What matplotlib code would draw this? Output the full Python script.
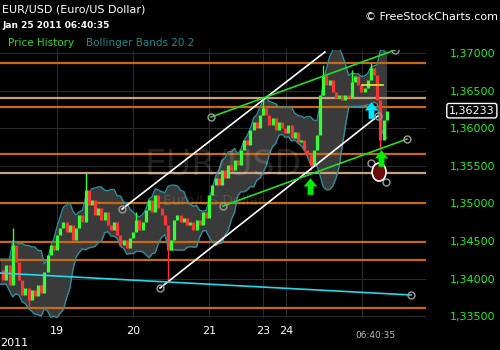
import numpy as np
import pandas as pd
import matplotlib
matplotlib.use("Agg")
import matplotlib.pyplot as plt
from matplotlib.path import Path
from matplotlib.patches import Ellipse
import matplotlib.transforms as mtransforms

# hourly closes, EUR/USD, bar index 0..122
closes = [1.34114, 1.33981, 1.34181, 1.33915, 1.34447, 1.34220, 1.33981, 1.33782, 1.33875, 1.33715,
          1.33848, 1.33768, 1.33915, 1.33808, 1.34087, 1.34314, 1.34447, 1.34380, 1.34580, 1.34673,
          1.34752, 1.34619, 1.34713, 1.34513, 1.34673, 1.34846, 1.34752, 1.35178, 1.34979, 1.35045,
          1.34846, 1.34939, 1.34779, 1.34885, 1.34713, 1.34646, 1.34752, 1.34580, 1.34447, 1.34513,
          1.34407, 1.34540, 1.34619, 1.34779, 1.34646, 1.34752, 1.34912, 1.35045, 1.34885, 1.35112,
          1.34939, 1.34846, 1.34713, 1.34380, 1.34513, 1.34779, 1.34846, 1.34752, 1.34806, 1.34713,
          1.34752, 1.34646, 1.34779, 1.34713, 1.34885, 1.34806, 1.35112, 1.35245, 1.35338, 1.35245,
          1.35444, 1.35338, 1.35511, 1.35444, 1.35577, 1.35511, 1.35710, 1.35843, 1.35777, 1.35976,
          1.36082, 1.36003, 1.36176, 1.36269, 1.36176, 1.36043, 1.36136, 1.35976, 1.36082, 1.36003,
          1.35936, 1.36043, 1.35870, 1.35949, 1.35816, 1.35843, 1.35710, 1.35644, 1.35511, 1.35710,
          1.35910, 1.36442, 1.36708, 1.36575, 1.36641, 1.36481, 1.36402, 1.36442, 1.36375, 1.36442,
          1.36402, 1.36614, 1.36694, 1.36575, 1.36481, 1.36535, 1.36641, 1.36801, 1.36708, 1.36375,
          1.35843, 1.36109, 1.36233]

# bars with long wicks: index, high, low
wick_idx = [4, 9, 27, 43, 53, 83, 98, 102, 111, 117, 120]
wick_hi = [1.34673, 1.33848, 1.35404, 1.34885, 1.34513, 1.36375, 1.35644, 1.36841, 1.36774, 1.36867, 1.36375]
wick_lo = [1.34220, 1.33622, 1.34979, 1.34646, 1.33954, 1.36176, 1.35444, 1.36442, 1.36481, 1.36708, 1.35710]

day_pos = [18.0, 42.0, 65.9, 83.0, 90.2, 114.2]
day_labels = ["19", "20", "21", "23", "24", ""]

levels_orange = [1.36871, 1.36286, 1.35661, 1.35009, 1.34482, 1.34251, 1.33613]
levels_tan = [1.36406, 1.35408]

# drawn trend lines (bar index, price)
white_lines = [([38.5, 102.5], [1.34925, 1.37013]), ([50.5, 119.2], [1.33875, 1.36162])]
green_lines = [([66.6, 124.6], [1.36149, 1.37040]), ([70.3, 128.4], [1.34965, 1.35856])]
cyan_line = ([0, 129.7], [1.34074, 1.33782])
handles_x = [38.5, 50.5, 119.2, 66.6, 124.6, 70.3, 128.4, 129.7, 117.0, 121.8]
handles_y = [1.34925, 1.33875, 1.36162, 1.36149, 1.37040, 1.34965, 1.35856, 1.33782, 1.35537, 1.35284]
yellow_line = ([114.2, 120.8], [1.36574, 1.36574])
arrows_green = ([97.8, 120.2], [1.35231, 1.35604])
arrow_cyan = ([117.0], [1.36242])
last_price = 1.36233

# 20 half-hour periods ~ 10 of these hourly bars
bb_window = 10
c = pd.Series(closes)
mid = c.rolling(bb_window, min_periods=3).mean().bfill()
sd = c.rolling(bb_window, min_periods=3).std(ddof=0).bfill()
upper = mid + 2 * sd
lower = mid - 2 * sd
x = np.arange(len(closes))
opens = [closes[0]] + closes[:-1]

fig = plt.figure(figsize=(5, 3.5), dpi=100, facecolor="black")
ax = fig.add_axes([0, 32 / 350, 426 / 500, 268 / 350])
ax.set_facecolor("black")
ax.set_xlim(0, 134.4)
ax.set_ylim(1.33476, 1.37040)
for s in ax.spines.values():
    s.set_visible(False)

yt = np.arange(1.335, 1.37001, 0.005)
ax.set_yticks(yt)
ax.set_yticklabels([f"{v:.5f}".replace(".", ",") for v in yt])
ax.set_xticks(day_pos)
ax.set_xticklabels(day_labels)
ax.grid(True, color="#2b2b2b", lw=0.8)
ax.set_axisbelow(True)
ax.yaxis.tick_right()
ax.tick_params(axis="y", length=0, pad=17, labelcolor="#22ee22", labelsize=8)
ax.tick_params(axis="x", length=0, pad=6, labelcolor="white", labelsize=8)

for lv in levels_orange:
    ax.axhline(lv, color="#c86a12", lw=1.6, zorder=2)
for lv in levels_tan:
    ax.axhline(lv, color="#c9a07c", lw=1.6, zorder=2)

# watermark
ax.text(0.524, 0.571, "EUR/USD", transform=ax.transAxes, ha="center", va="center",
        fontsize=25, color="white", alpha=0.13, zorder=3)
ax.text(0.502, 0.437, "Euro/US Dollar", transform=ax.transAxes, ha="center", va="center",
        fontsize=10, color="white", alpha=0.13, zorder=3)

# bollinger bands
ax.fill_between(x, lower, upper, color="#3a3a3a", lw=0, zorder=1)
ax.plot(x, upper, color="#2a8e9c", lw=1, zorder=2.5)
ax.plot(x, lower, color="#2a8e9c", lw=1, zorder=2.5)

# candles
cols = ["#33ff33" if cl >= op else "#ff3333" for op, cl in zip(opens, closes)]
ax.vlines(x, opens, closes, colors=cols, lw=2.3, zorder=4)
wick_cols = [cols[i] for i in wick_idx]
ax.vlines(wick_idx, wick_lo, wick_hi, colors=wick_cols, lw=1, zorder=4)

# trend lines
for lx, ly in white_lines:
    ax.plot(lx, ly, color="white", lw=1.2, zorder=5)
for lx, ly in green_lines:
    ax.plot(lx, ly, color="#22dd22", lw=1.2, zorder=5)
ax.plot(*cyan_line, color="#22d8e8", lw=1.2, zorder=5)
ax.plot(*yellow_line, color="#e8e830", lw=1.2, zorder=5)
ax.plot(handles_x, handles_y, ls="none", marker="o", ms=5, mfc="none", mec="#9a9a9a", mew=1, zorder=6)

ax.add_patch(Ellipse((119.6, 1.35417), 4.4, 0.0024, facecolor="#6a0c0c", edgecolor="white", lw=1.2, zorder=6))

arrow = Path([(-0.8, 0), (0, 1), (0.8, 0), (0.35, 0), (0.35, -1), (-0.35, -1), (-0.35, 0), (-0.8, 0)],
             [Path.MOVETO] + [Path.LINETO] * 6 + [Path.CLOSEPOLY])
ax.plot(*arrows_green, ls="none", marker=arrow, ms=12, color="#00ee00", mew=0, zorder=7)
ax.plot(*arrow_cyan, ls="none", marker=arrow, ms=12, color="#00e5ff", mew=0, zorder=7)

# last price box
tr = mtransforms.blended_transform_factory(ax.transAxes, ax.transData)
ax.text(1.054, last_price, f"{last_price:.5f}".replace(".", ","), transform=tr, ha="left", va="center",
        color="white", fontsize=8, clip_on=False,
        bbox=dict(boxstyle="round,pad=0.2", fc="black", ec="white", lw=1))

# header texts
fig.text(2 / 500, 1 - 10 / 350, "EUR/USD (Euro/US Dollar)", color="white", fontsize=8, va="center")
fig.text(2 / 500, 1 - 25 / 350, "Jan 25 2011 06:40:35", color="white", fontsize=6.5,
         fontweight="bold", va="center")
fig.text(8 / 500, 1 - 43 / 350, "Price History", color="#22dd22", fontsize=7.5, va="center")
fig.text(86 / 500, 1 - 43 / 350, "Bollinger Bands 20 2", color="#1a8a8a", fontsize=7.5, va="center")
fig.text(498 / 500, 1 - 17 / 350, "\u00a9 FreeStockCharts.com", color="white", fontsize=8,
         ha="right", va="center")
fig.text(375 / 500, 1 - 336 / 350, "06:40:35", color="#bbbbbb", fontsize=6.5, ha="center", va="center")
fig.text(0, 1 - 343 / 350, "2011", color="white", fontsize=8, ha="left", va="center")

fig.savefig("out.png", dpi=100, facecolor="black")
